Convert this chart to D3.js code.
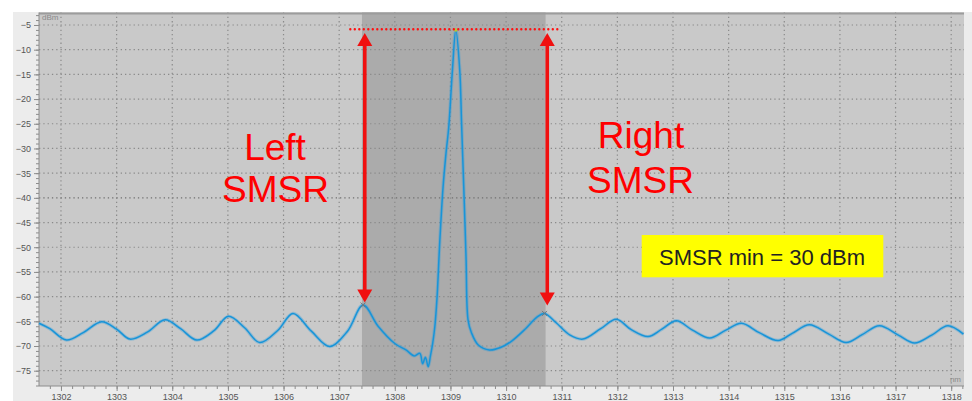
<!DOCTYPE html>
<html>
<head>
<meta charset="utf-8">
<script src="https://cdn.jsdelivr.net/npm/d3@7"></script>
<style>
  body { margin: 0; background: #fff; }
  text { font-family: "Liberation Sans", Arial, sans-serif; }
</style>
</head>
<body>
<div id="chart"></div>
<script>
let WIDTH = 972
let HEIGHT = 401

// spectrum (nm, dBm)
let wavelength = [1301.605, 1301.8, 1302.1, 1302.4, 1302.73, 1303.0, 1303.24, 1303.55, 1303.87, 1304.15,
    1304.44, 1304.75, 1305.01, 1305.3, 1305.57, 1305.9, 1306.17, 1306.5, 1306.83, 1307.15,
    1307.43, 1307.7, 1308.0, 1308.2, 1308.35, 1308.45, 1308.5, 1308.55, 1308.6, 1308.64,
    1308.68, 1308.72, 1308.76, 1308.81, 1308.868, 1308.92, 1308.97, 1309.036, 1309.096, 1309.167,
    1309.2, 1309.239, 1309.28, 1309.316, 1309.377, 1309.5, 1309.7, 1309.9, 1310.1, 1310.35,
    1310.55, 1310.69, 1310.9, 1311.15, 1311.38, 1311.7, 1311.98, 1312.25, 1312.55, 1312.8,
    1313.06, 1313.35, 1313.66, 1313.95, 1314.23, 1314.55, 1314.89, 1315.15, 1315.45, 1315.8,
    1316.11, 1316.4, 1316.71, 1317.05, 1317.34, 1317.65, 1317.94, 1318.22]
let power = [-65.4, -66.5, -68.8, -67.3, -65.1, -66.6, -68.6, -67.2, -64.7, -66.5,
    -68.8, -66.9, -64.0, -66.3, -69.3, -66.8, -63.4, -67.0, -70.1, -67.0,
    -61.7, -66.0, -69.5, -70.8, -72.0, -71.5, -73.6, -72.3, -74.2, -72.0,
    -69.5, -66.0, -60.0, -48.5, -37.7, -31.0, -25.6, -14.1, -6.0, -14.1,
    -25.0, -37.7, -52.0, -64.7, -67.3, -69.8, -70.8, -70.3, -69.0, -66.5,
    -64.2, -63.4, -65.3, -67.8, -68.6, -66.5, -64.6, -66.7, -68.1, -66.6,
    -64.9, -66.8, -68.4, -66.8, -65.4, -67.3, -68.9, -67.4, -65.7, -67.6,
    -69.3, -67.7, -65.9, -67.8, -69.4, -67.8, -65.9, -67.6]

let xTicks = d3.range(1302, 1319, 1)
let yTicks = d3.range(-5, -80, -5)

// shaded band, side modes and main peak
let bandRange = [1307.41, 1310.71]
let sideModes = [[1307.43, -61.7], [1310.69, -63.4]]
let mainPeak = [1309.096, -6.0]
let arrowPos = [1307.46, 1310.74]
let arrowBottom = [-61.2, -61.8]
let peakLineRange = [1307.2, 1310.93]

let svg = d3.select('#chart')
    .append('svg')
    .attr('width', WIDTH)
    .attr('height', HEIGHT)

let x = d3.scaleLinear().domain([1301.605, 1318.23]).range([39, 964])
let y = d3.scaleLinear().domain([-2.47, -78.1]).range([12.5, 386])

// outer panel
svg.append('rect').attr('x', 13).attr('y', 12).attr('width', WIDTH - 13).attr('height', HEIGHT - 12)
    .attr('fill', '#ececec')

// plot area
svg.append('rect').attr('x', x.range()[0]).attr('y', y.range()[0])
    .attr('width', x.range()[1] - x.range()[0]).attr('height', y.range()[1] - y.range()[0])
    .attr('fill', '#c9c9c9')

svg.append('rect').attr('x', x(bandRange[0])).attr('y', y.range()[0])
    .attr('width', x(bandRange[1]) - x(bandRange[0])).attr('height', y.range()[1] - y.range()[0])
    .attr('fill', '#ababab')

// grid
let grid = svg.append('g')
grid.selectAll('.vg').data(xTicks).join('line')
    .attr('x1', d => x(d)).attr('x2', d => x(d))
    .attr('y1', y.range()[0]).attr('y2', y.range()[1])
    .attr('stroke', '#8a8a8a').attr('stroke-width', 1.2).attr('stroke-dasharray', '1.3,3')
grid.selectAll('.hg').data(yTicks).join('line')
    .attr('x1', x.range()[0]).attr('x2', x.range()[1])
    .attr('y1', d => y(d)).attr('y2', d => y(d))
    .attr('stroke', d => d === -40 ? '#707070' : '#8a8a8a')
    .attr('stroke-width', 1.2).attr('stroke-dasharray', '1.3,3')

// top border
svg.append('line').attr('x1', x.range()[0]).attr('x2', x.range()[1])
    .attr('y1', y.range()[0] + 1).attr('y2', y.range()[0] + 1)
    .attr('stroke', '#9c9c9c').attr('stroke-width', 2)

// axes
let yAxis = svg.append('g').attr('transform', `translate(${x.range()[0]},0)`)
yAxis.call(d3.axisLeft(y).tickValues(d3.range(-3, -79, -1)).tickSize(3).tickFormat(''))
yAxis.append('g').call(d3.axisLeft(y).tickValues(yTicks).tickSize(5).tickPadding(3).tickFormat(d3.format('d')))
yAxis.selectAll('path').remove()
yAxis.selectAll('line').attr('stroke', '#8c8c8c')
yAxis.selectAll('text').attr('fill', '#555').style('font-size', '9px')
svg.append('line').attr('x1', x.range()[0]).attr('x2', x.range()[0])
    .attr('y1', y.range()[0]).attr('y2', y.range()[1]).attr('stroke', '#8c8c8c')

let xAxis = svg.append('g').attr('transform', `translate(0,${y.range()[1]})`)
xAxis.call(d3.axisBottom(x).tickValues(d3.range(1301.8, 1318.3, 0.2)).tickSize(3).tickFormat(''))
xAxis.append('g').call(d3.axisBottom(x).tickValues(xTicks).tickSize(5).tickPadding(3).tickFormat(d3.format('d')))
xAxis.selectAll('path').remove()
xAxis.selectAll('line').attr('stroke', '#8c8c8c')
xAxis.selectAll('text').attr('fill', '#555').style('font-size', '9px')
svg.append('line').attr('x1', x.range()[0]).attr('x2', x.range()[1])
    .attr('y1', y.range()[1]).attr('y2', y.range()[1]).attr('stroke', '#8c8c8c')

svg.append('text').attr('x', 42).attr('y', 20).text('dBm')
    .attr('fill', '#8a8a8a').style('font-size', '8px')
svg.append('text').attr('x', 961).attr('y', 382).attr('text-anchor', 'end').text('nm')
    .attr('fill', '#8a8a8a').style('font-size', '8px')

// spectrum
let pts = wavelength.map((w, i) => [w, power[i]])
let line = d3.line().x(d => x(d[0])).y(d => y(d[1])).curve(d3.curveCatmullRom.alpha(0.5))
svg.append('path').datum(pts).attr('d', line)
    .attr('fill', 'none').attr('stroke', '#2a9ee0').attr('stroke-width', 3.4).attr('stroke-opacity', 0.35)
svg.append('path').datum(pts).attr('d', line)
    .attr('fill', 'none').attr('stroke', '#1894d8').attr('stroke-width', 1.5)

// markers
svg.selectAll('.sm').data(sideModes).join('path')
    .attr('d', d => {
        let cx = x(d[0]), cy = y(d[1])
        return `M${cx - 2.5},${cy - 2.5}L${cx + 2.5},${cy + 2.5}M${cx - 2.5},${cy + 2.5}L${cx + 2.5},${cy - 2.5}`
    })
    .attr('stroke', '#777').attr('stroke-width', 1)
svg.append('circle').attr('cx', x(mainPeak[0])).attr('cy', y(mainPeak[1])).attr('r', 1.8)
    .attr('fill', '#b8c830')

// red dotted peak line
svg.append('line').attr('x1', x(peakLineRange[0])).attr('x2', x(peakLineRange[1]))
    .attr('y1', y(mainPeak[1]) - 0.7).attr('y2', y(mainPeak[1]) - 0.7)
    .attr('stroke', '#ff1010').attr('stroke-width', 2.4)
    .attr('stroke-linecap', 'round').attr('stroke-dasharray', '0,4.5')

// arrows
let headL = 13, headW = 7.5
arrowPos.forEach((w, i) => {
    let ax = x(w)
    let top = y(mainPeak[1]) + 3
    let bot = y(arrowBottom[i])
    let g = svg.append('g').attr('fill', '#f01010').attr('stroke', 'none')
    g.append('rect').attr('x', ax - 1.8).attr('y', top + headL - 1).attr('width', 3.6)
        .attr('height', bot - top - 2 * headL + 2)
    g.append('path').attr('d', `M${ax},${top}L${ax + headW},${top + headL}L${ax - headW},${top + headL}Z`)
    g.append('path').attr('d', `M${ax},${bot}L${ax + headW},${bot - headL}L${ax - headW},${bot - headL}Z`)
})

// labels
let red = '#ff0000'
svg.append('text').attr('x', 275).attr('y', 160).attr('text-anchor', 'middle')
    .attr('fill', red).style('font-size', '37px').text('Left')
svg.append('text').attr('x', 275.5).attr('y', 201.5).attr('text-anchor', 'middle')
    .attr('fill', red).style('font-size', '37px').text('SMSR')
svg.append('text').attr('x', 641).attr('y', 148).attr('text-anchor', 'middle')
    .attr('fill', red).style('font-size', '37px').text('Right')
svg.append('text').attr('x', 640.5).attr('y', 193).attr('text-anchor', 'middle')
    .attr('fill', red).style('font-size', '37px').text('SMSR')

svg.append('rect').attr('x', 641.7).attr('y', 235).attr('width', 241.6).attr('height', 42.3)
    .attr('fill', '#ffff00')
svg.append('text').attr('x', 762).attr('y', 264.5).attr('text-anchor', 'middle')
    .attr('fill', '#222').style('font-size', '22px').text('SMSR min = 30 dBm')
</script>
</body>
</html>
